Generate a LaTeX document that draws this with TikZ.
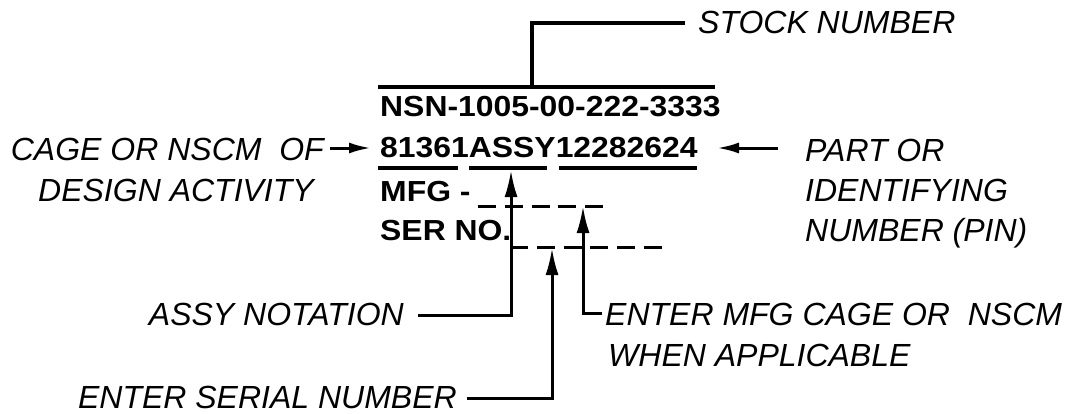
\documentclass[tikz,border=0pt]{standalone}
\usepackage{fontspec}
\setmainfont{Liberation Sans}
\newfontfamily\codefont[FakeStretch=1.1]{Liberation Sans}
\usetikzlibrary{arrows.meta}
\begin{document}
\begin{tikzpicture}[x=1pt,y=-1pt,
  lbl/.style={font=\fontsize{32}{38}\selectfont\itshape, inner sep=0pt},
  code/.style={font=\codefont\fontsize{29}{35}\selectfont\bfseries, inner sep=0pt},
  ln/.style={line width=3.2pt},
  dashln/.style={line width=3pt, dash pattern=on 18pt off 8.75pt},
  varrow/.style={line width=3pt, -{Latex[length=27pt,width=13pt]}},
  harrow/.style={line width=3pt, -{Latex[length=22pt,width=11pt]}}]
\useasboundingbox (0,0) rectangle (1068,413);

% code texts
\node[code, anchor=base west] (nsn) at (380,116) {NSN-1005-00-222-3333};
\node[code, anchor=base west] (pn)  at (380,157) {81361ASSY12282624};
\node[code, anchor=base west] (mfg) at (380,201) {MFG -};
\node[code, anchor=base west] (ser) at (380,240) {SER NO.};

% labels
\node[lbl, anchor=base west] (stock) at (698,33) {STOCK NUMBER};
\node[lbl, anchor=base east] (cage1) at (324,160) {CAGE OR NSCM\ \ OF};
\node[lbl, anchor=base] (cage2) at (176,201) {DESIGN ACTIVITY};
\node[lbl, anchor=base west] (part1) at (805,161) {PART OR};
\node[lbl, anchor=base west] (part2) at (805,201) {IDENTIFYING};
\node[lbl, anchor=base west] (part3) at (805,241) {NUMBER (PIN)};
\node[lbl, anchor=base east] (assy) at (404,325) {ASSY NOTATION};
\node[lbl, anchor=base east] (serial) at (457,408) {ENTER SERIAL NUMBER};
\node[lbl, anchor=base west] (mfgc1) at (605,325) {ENTER MFG CAGE OR\ \ NSCM};
\node[lbl, anchor=base west] (mfgc2) at (608,366) {WHEN APPLICABLE};

% coordinates
\coordinate (ovL) at (378,87);
\coordinate (ovR) at (715,87);
\coordinate (ovJ) at (532,87);
\coordinate (stockR) at (685,23);
\coordinate (u1a) at (378,168); \coordinate (u1b) at (458,168);
\coordinate (u2a) at (469,168); \coordinate (u2b) at (547,168);
\coordinate (u3a) at (559,168); \coordinate (u3b) at (697,168);
\coordinate (d1a) at (478,206); \coordinate (d1b) at (604,206);
\coordinate (d2a) at (510,247); \coordinate (d2b) at (663,247);
\coordinate (cageA) at (330,148); \coordinate (cageB) at (371,148);
\coordinate (partA) at (778,148); \coordinate (partB) at (717,148);
\coordinate (assyA) at (418,315); \coordinate (assyB) at (511,170);
\coordinate (serA) at (467,398); \coordinate (serB) at (552,248);
\coordinate (mfgA) at (602,313); \coordinate (mfgB) at (583,206);

% lines
\draw[ln] (ovL) -- (ovR);
\draw[ln] (ovJ) |- (stockR);
\draw[ln] (u1a) -- (u1b);
\draw[ln] (u2a) -- (u2b);
\draw[ln] (u3a) -- (u3b);
\draw[dashln] (d1a) -- (d1b);
\draw[dashln] (d2a) -- (d2b);

% arrows
\draw[harrow] (cageA) -- (cageB);
\draw[harrow] (partA) -- (partB);
\draw[varrow] (assyA) -| (assyB);
\draw[varrow] (serA) -| (serB);
\draw[varrow] (mfgA) -| (mfgB);
\end{tikzpicture}
\end{document}
